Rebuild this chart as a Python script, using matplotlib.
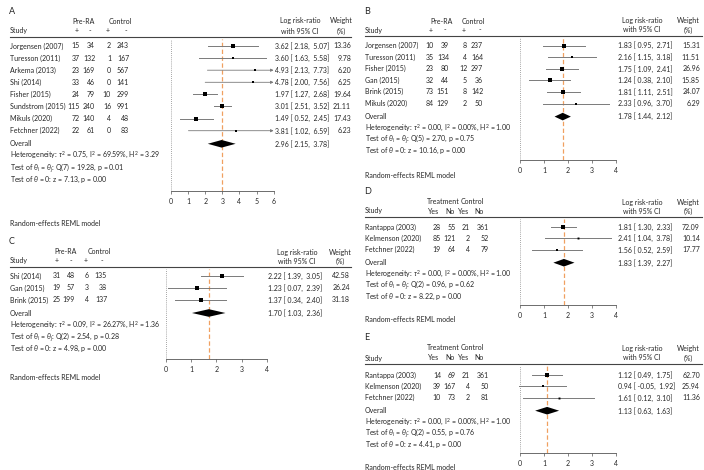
import matplotlib
matplotlib.use("Agg")
import matplotlib.pyplot as plt

plt.rcParams['font.family'] = ['Lato', 'DejaVu Sans']
plt.rcParams['mathtext.fontset'] = 'custom'
plt.rcParams['mathtext.rm'] = 'Lato'
plt.rcParams['mathtext.it'] = 'Lato:italic'
plt.rcParams['mathtext.bf'] = 'Lato:bold'
plt.rcParams['mathtext.sf'] = 'Lato'
plt.rcParams['mathtext.fallback'] = 'stixsans'

# ---------------- data ----------------
A_studies = ['Jorgensen (2007)', 'Turesson (2011)', 'Arkema (2013)', 'Shi (2014)',
             'Fisher (2015)', 'Sundstrom (2015)', 'Mikuls (2020)', 'Fetchner (2022)']
A_t_pos = [15, 37, 23, 33, 24, 115, 72, 22]
A_t_neg = [34, 132, 169, 46, 79, 240, 140, 61]
A_c_pos = [2, 1, 0, 0, 10, 16, 4, 0]
A_c_neg = [243, 167, 567, 141, 299, 991, 48, 83]
A_est = [3.62, 3.60, 4.93, 4.78, 1.97, 3.01, 1.49, 3.81]
A_lo = [2.18, 1.63, 2.13, 2.00, 1.27, 2.51, 0.52, 1.02]
A_hi = [5.07, 5.58, 7.73, 7.56, 2.68, 3.52, 2.45, 6.59]
A_w = [13.36, 9.78, 6.20, 6.25, 19.64, 21.11, 17.43, 6.23]
A_overall = [2.96, 2.15, 3.78]
A_stats = ['0.75', '69.59%', '3.29', '7', '19.28', '0.01', '7.13', '0.00']

B_studies = ['Jorgensen (2007)', 'Turesson (2011)', 'Fisher (2015)', 'Gan (2015)',
             'Brink (2015)', 'Mikuls (2020)']
B_t_pos = [10, 35, 23, 32, 73, 84]
B_t_neg = [39, 134, 80, 44, 151, 129]
B_c_pos = [8, 4, 12, 5, 8, 2]
B_c_neg = [237, 164, 297, 36, 142, 50]
B_est = [1.83, 2.16, 1.75, 1.24, 1.81, 2.33]
B_lo = [0.95, 1.15, 1.09, 0.38, 1.11, 0.96]
B_hi = [2.71, 3.18, 2.41, 2.10, 2.51, 3.70]
B_w = [15.31, 11.51, 26.96, 15.85, 24.07, 6.29]
B_overall = [1.78, 1.44, 2.12]
B_stats = ['0.00', '0.00%', '1.00', '5', '2.70', '0.75', '10.16', '0.00']

C_studies = ['Shi (2014)', 'Gan (2015)', 'Brink (2015)']
C_t_pos = [31, 19, 25]
C_t_neg = [48, 57, 199]
C_c_pos = [6, 3, 4]
C_c_neg = [135, 38, 137]
C_est = [2.22, 1.23, 1.37]
C_lo = [1.39, 0.07, 0.34]
C_hi = [3.05, 2.39, 2.40]
C_w = [42.58, 26.24, 31.18]
C_overall = [1.70, 1.03, 2.36]
C_stats = ['0.09', '26.27%', '1.36', '2', '2.54', '0.28', '4.98', '0.00']

D_studies = ['Rantappa (2003)', 'Kelmenson (2020)', 'Fetchner (2022)']
D_t_pos = [28, 85, 19]
D_t_neg = [55, 121, 64]
D_c_pos = [21, 2, 4]
D_c_neg = [361, 52, 79]
D_est = [1.81, 2.41, 1.56]
D_lo = [1.30, 1.04, 0.52]
D_hi = [2.33, 3.78, 2.59]
D_w = [72.09, 10.14, 17.77]
D_overall = [1.83, 1.39, 2.27]
D_stats = ['0.00', '0.00%', '1.00', '2', '0.96', '0.62', '8.22', '0.00']

E_studies = ['Rantappa (2003)', 'Kelmenson (2020)', 'Fetchner (2022)']
E_t_pos = [14, 39, 10]
E_t_neg = [69, 167, 73]
E_c_pos = [21, 4, 2]
E_c_neg = [361, 50, 81]
E_est = [1.12, 0.94, 1.61]
E_lo = [0.49, -0.05, 0.12]
E_hi = [1.75, 1.92, 3.10]
E_w = [62.70, 25.94, 11.36]
E_overall = [1.13, 0.63, 1.63]
E_stats = ['0.00', '0.00%', '1.00', '2', '0.55', '0.76', '4.41', '0.00']

groups_prera = ['Pre-RA', 'Control']
sub_prera = ['+', '-', '+', '-']
groups_treat = ['Treatment', 'Control']
sub_treat = ['Yes', 'No', 'Yes', 'No']
x_ticks_A = [0, 1, 2, 3, 4, 5, 6]
x_ticks_4 = [0, 1, 2, 3, 4]

# ---------------- style ----------------
W, H = 704, 470
FS = 5.0
TXT = '#262626'
CI_COL = '#7a7a7a'
ORANGE = '#f0a060'

fig = plt.figure(figsize=(W / 100, H / 100), dpi=100)
bg = fig.add_axes([0, 0, 1, 1])
bg.set_xlim(0, W)
bg.set_ylim(H, 0)
bg.axis('off')


def txt(x, y, s, ha='left', size=FS, **kw):
    bg.text(x, y, s, ha=ha, va='center', fontsize=size, color=TXT, **kw)


def panel(label, studies, tp, tn, cp, cn, est, lo, hi, w, overall, stats,
          groups, subs, ticks, L):
    n = len(studies)
    s = L['s']
    ys = [L['first'] + s * k for k in range(n)]
    y_ov = L['first'] + s * n + L['ovgap']
    y_het = y_ov + s
    y_t1 = y_het + s
    y_t2 = y_t1 + s
    y_axis = y_t2 + L['axgap']

    txt(L['name_x'] - 1, L['label'], label, size=6.5)
    for gname, gc in zip(groups, L['grp_c']):
        txt(gc, L['h1'], gname, ha='center')
    txt(L['name_x'], L['h2'], 'Study')
    for sname, sc in zip(subs, L['sub_c']):
        txt(sc, L['h2'], sname, ha='center')
    txt(L['lr_c'], L['h1'], 'Log risk-ratio', ha='center')
    txt(L['lr_c'], L['h2'], 'with 95% CI', ha='center')
    txt(L['w_c'], L['h1'], 'Weight', ha='center')
    txt(L['w_c'], L['h2'], '(%)', ha='center')
    bg.plot([L['name_x'], L['rule_x1']], [L['rule'], L['rule']], color='#444444', lw=0.8)

    for i in range(n):
        y = ys[i]
        txt(L['name_x'], y, studies[i])
        for col, vals in enumerate([tp, tn, cp, cn]):
            txt(L['cols_r'][col], y, str(vals[i]), ha='right')
        txt(L['eff_x'], y, f"{est[i]:.2f} [ {lo[i]:.2f},  {hi[i]:.2f}]")
        txt(L['w_r'], y, f"{w[i]:.2f}", ha='right')
    txt(L['name_x'], y_ov, 'Overall')
    txt(L['eff_x'], y_ov, f"{overall[0]:.2f} [ {overall[1]:.2f},  {overall[2]:.2f}]")
    tau2, i2, h2, df, q, pq, z, pz = stats
    txt(L['name_x'], y_het,
        r'Heterogeneity: $\tau^2$ = ' + tau2 + r', $\mathrm{I}^2$ = ' + i2
        + r', $\mathrm{H}^2$ = ' + h2)
    txt(L['name_x'], y_t1, r'Test of $\theta_i$ = $\theta_j$: Q(' + df + ') = ' + q + ', p = ' + pq)
    txt(L['name_x'], y_t2, r'Test of $\theta$ = 0: z = ' + z + ', p = ' + pz)
    txt(L['name_x'], L['random'], 'Random-effects REML model')

    xmax = ticks[-1]
    x0 = L['zero']
    x1 = L['zero'] + L['unit'] * xmax
    top = L['rule'] + 2
    ax = fig.add_axes([x0 / W, 1 - y_axis / H, (x1 - x0) / W, (y_axis - top) / H])
    ax.set_xlim(0, xmax)
    ax.set_ylim(y_axis, top)
    ax.patch.set_alpha(0)
    for sp in ['top', 'right', 'left']:
        ax.spines[sp].set_visible(False)
    ax.spines['bottom'].set_color('#555555')
    ax.spines['bottom'].set_linewidth(0.6)
    ax.set_yticks([])
    ax.set_xticks(ticks)
    ax.tick_params(axis='x', length=2.5, width=0.5, labelsize=FS, pad=2.5,
                   colors='#555555', labelcolor=TXT)
    ax.axvline(0, color='#888888', ls=(0, (1, 1.5)), lw=0.6, zorder=1)
    ax.axvline(overall[0], color=ORANGE, ls=(0, (3.5, 2)), lw=0.9, zorder=1)
    wmax = max(w)
    for i in range(n):
        y = ys[i]
        if hi[i] > xmax:
            ax.annotate('', xy=(xmax, y), xytext=(lo[i], y),
                        arrowprops=dict(arrowstyle='-|>', color=CI_COL, lw=0.6,
                                        mutation_scale=4, shrinkA=0, shrinkB=0))
        else:
            ax.plot([lo[i], hi[i]], [y, y], color=CI_COL, lw=0.7, clip_on=False, zorder=2)
        ms = max(1.4, 3.0 * (w[i] / wmax) ** 0.5)
        ax.plot(est[i], y, marker='s', ms=ms, color='black', mec='black',
                mew=0, clip_on=False, zorder=3)
    dh = 3.8
    ax.fill([overall[1], overall[0], overall[2], overall[0]],
            [y_ov, y_ov - dh, y_ov, y_ov + dh], color='black', lw=0, zorder=3)
    return ax


LA = dict(name_x=10, label=12, h1=21, h2=31, rule=37, first=46, s=12.1, ovgap=1,
          axgap=11, random=223, grp_c=[84, 120], sub_c=[77, 90, 108, 126],
          cols_r=[80, 95, 111, 129], zero=171, unit=17.1, eff_x=275, w_r=351,
          lr_c=300, w_c=341, rule_x1=351)
LC = dict(name_x=10, label=242, h1=252, h2=261, rule=267, first=276, s=12, ovgap=1,
          axgap=10, random=377, grp_c=[66, 99], sub_c=[57, 71, 86, 102],
          cols_r=[61, 75, 89, 107], zero=166, unit=25.2, eff_x=268, w_r=350,
          lr_c=297, w_c=340, rule_x1=351)
LB = dict(name_x=365, label=12, h1=21, h2=30, rule=36, first=45.5, s=11.6, ovgap=1.5,
          axgap=9, random=175, grp_c=[442, 473], sub_c=[431, 445, 464, 480],
          cols_r=[434, 449, 467, 483], zero=520, unit=24, eff_x=618, w_r=700,
          lr_c=642, w_c=688, rule_x1=702)
LD = dict(name_x=365, label=191, h1=202, h2=211, rule=217, first=227, s=11.4, ovgap=1.5,
          axgap=8.5, random=320, grp_c=[443, 472], sub_c=[434, 450, 464, 479],
          cols_r=[441, 456, 470, 489], zero=520, unit=24, eff_x=618, w_r=700,
          lr_c=642, w_c=688, rule_x1=702)
LE = dict(name_x=365, label=337, h1=348, h2=358, rule=364, first=375, s=11.4, ovgap=1.5,
          axgap=8.5, random=467, grp_c=[443, 472], sub_c=[434, 450, 464, 479],
          cols_r=[441, 456, 470, 489], zero=520, unit=24, eff_x=618, w_r=700,
          lr_c=642, w_c=688, rule_x1=702)

panel('A', A_studies, A_t_pos, A_t_neg, A_c_pos, A_c_neg, A_est, A_lo, A_hi, A_w,
      A_overall, A_stats, groups_prera, sub_prera, x_ticks_A, LA)
panel('C', C_studies, C_t_pos, C_t_neg, C_c_pos, C_c_neg, C_est, C_lo, C_hi, C_w,
      C_overall, C_stats, groups_prera, sub_prera, x_ticks_4, LC)
panel('B', B_studies, B_t_pos, B_t_neg, B_c_pos, B_c_neg, B_est, B_lo, B_hi, B_w,
      B_overall, B_stats, groups_prera, sub_prera, x_ticks_4, LB)
panel('D', D_studies, D_t_pos, D_t_neg, D_c_pos, D_c_neg, D_est, D_lo, D_hi, D_w,
      D_overall, D_stats, groups_treat, sub_treat, x_ticks_4, LD)
panel('E', E_studies, E_t_pos, E_t_neg, E_c_pos, E_c_neg, E_est, E_lo, E_hi, E_w,
      E_overall, E_stats, groups_treat, sub_treat, x_ticks_4, LE)

fig.savefig('out.png', dpi=100, facecolor='white')
